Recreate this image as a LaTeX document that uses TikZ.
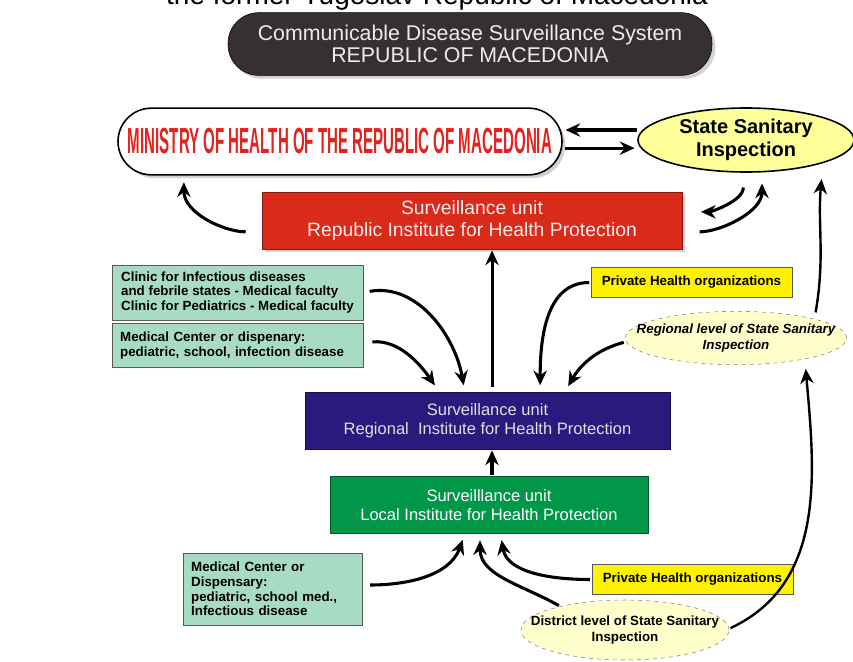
\documentclass[tikz,border=0pt]{standalone}
\usepackage{fontspec}
\setmainfont{Liberation Sans}
\usetikzlibrary{positioning,arrows.meta,shapes.geometric,shadows,calc}

\definecolor{sysgray}{RGB}{54,49,48}
\definecolor{rhpred}{RGB}{218,42,26}
\definecolor{regblue}{RGB}{44,25,125}
\definecolor{locgreen}{RGB}{0,152,72}
\definecolor{mint}{RGB}{168,219,196}
\definecolor{lightyel}{RGB}{255,255,204}
\definecolor{stateyel}{RGB}{255,255,153}
\definecolor{minred}{RGB}{228,35,30}

\begin{document}
\begin{tikzpicture}[x=0.75pt, y=-0.75pt,
    unit/.style={draw=#1!60!black, fill=#1, align=center, minimum height=42.5pt, font=\fontsize{12.4}{14.3}\selectfont},
    sidebox/.style={draw=gray!70!black, fill=mint, align=left, inner xsep=6pt, minimum width=188pt, font=\fontsize{10}{10.9}\selectfont\bfseries},
    privbox/.style={draw=gray!70!black, fill=yellow, minimum width=151pt, minimum height=22.5pt, font=\fontsize{10}{11}\selectfont\bfseries},
    inspect/.style={ellipse, draw=gray, dashed, fill=lightyel, inner sep=0pt},
    instext/.style={align=center, font=\fontsize{10}{11.5}\selectfont\bfseries},
    arrow/.style={-{Stealth[length=11pt,width=10pt]}, line width=2.3pt},
    shade/.style={drop shadow={shadow xshift=2.5pt, shadow yshift=-2.5pt, fill=gray!70}}
]
\useasboundingbox (0,0) rectangle (853,661);

% Header
\node[anchor=base, font=\fontsize{21}{21}\selectfont] (former) at (437,4) {the former Yugoslav Republic of Macedonia};
\node[shade, draw=black, fill=sysgray, text=gray!15, rounded corners=23pt, minimum width=363pt, minimum height=47pt, align=center, font=\fontsize{16}{16.5}\selectfont] (sys) at (470,44) {Communicable Disease Surveillance System\\REPUBLIC OF MACEDONIA};

% Ministry and inspection
\node[shade, draw=black, line width=1.2pt, fill=white, rounded corners=25pt, minimum width=333pt, minimum height=50pt, text=minred] (ministry) at (340,141.5) {\resizebox{318pt}{19pt}{\bfseries MINISTRY OF HEALTH OF THE REPUBLIC OF MACEDONIA}};
\node[ellipse, draw=black, line width=1.2pt, fill=stateyel, minimum width=162pt, minimum height=48pt, inner sep=0pt, align=center, font=\fontsize{15}{17.25}\selectfont\bfseries] (state) at (746,140) {State Sanitary\\Inspection};

% Surveillance units
\node[unit=rhpred, shade, text=white!92!red, minimum width=315pt, font=\fontsize{14.5}{16.5}\selectfont] (rhp) at (472,220.5) {Surveillance unit\\Republic Institute for Health Protection};
\node[unit=regblue, text=gray!25, minimum width=274pt] (reg) at (487.5,420.5) {Surveillance unit\\Regional\ \ Institute for Health Protection};
\node[unit=locgreen, text=white, minimum width=238.5pt] (loc) at (489,505) {Surveilllance unit\\Local Institute for Health Protection};

% Regional sources
\node[sidebox, minimum height=41pt] (clinic) at (237.5,292.5) {Clinic for Infectious diseases\\and febrile states - Medical faculty\\Clinic for Pediatrics - Medical faculty};
\node[sidebox, minimum height=33pt, below=2.25pt of clinic, text width=176pt] (medc) {Medical Center or dispenary:\\pediatric, school, infection disease};
\node[privbox] (privreg) at (691.5,282.5) {Private Health organizations};
\node[inspect, minimum width=166pt, minimum height=40pt, label={[instext, font=\fontsize{10}{11.5}\selectfont\bfseries\itshape]center:{Regional level of State Sanitary\\Inspection}}] (insreg) at (736,338) {};

% Local sources
\node[sidebox, minimum width=134pt, minimum height=54pt, text width=122pt] (medd) at (272.5,589) {Medical Center or\\Dispensary:\\pediatric, school med.,\\Infectious disease};
\node[privbox] (privloc) at (692.5,579.5) {Private Health organizations};
\node[inspect, minimum width=156pt, minimum height=45pt, label={[instext]center:{District level of State Sanitary\\Inspection}}] (insdis) at (625,630) {};

% Arrows
\draw[arrow, shorten >=2pt] ([yshift=7.5pt]state.west) -- ([yshift=7.5pt]state.west -| ministry.east);
\draw[arrow, shorten <=2pt, shorten >=2pt] ([yshift=-5pt]ministry.east) -- ([yshift=-5pt]ministry.east -| state.west);
\draw[arrow, shorten <=12pt, shorten >=5pt] ([yshift=-8.5pt]rhp.west) to[out=180, in=-90] ([xshift=50pt]ministry.south west);
\draw[arrow, shorten <=13pt, shorten >=8pt] ([yshift=-8.5pt]rhp.east) to[out=0, in=-90] ([xshift=12pt]state.south);
\draw[arrow, shorten <=11pt, shorten >=14pt] ([xshift=-2pt]state.south) to[out=-90, in=0] ([yshift=6.5pt]rhp.east);
\draw[arrow, line width=1.8pt, shorten <=5pt, shorten >=12pt] (insreg.north east) to[out=80, in=-95] (state.south east);
\draw[arrow, shorten <=4pt, shorten >=1pt] ([xshift=3.4pt]reg.north) -- ([xshift=3.4pt]reg.north |- rhp.south);
\draw[arrow, shorten <=5pt, shorten >=5pt] (clinic.east) to[out=10, in=100] ([xshift=-17pt]reg.north);
\draw[arrow, shorten <=7pt, shorten >=6pt] ([yshift=2pt]medc.east) to[out=5, in=125] ([xshift=-36pt]reg.north);
\draw[arrow, shorten <=1pt, shorten >=5pt] (privreg.west) to[out=180, in=90] ([xshift=39.5pt]reg.north);
\draw[arrow, shorten <=1pt, shorten >=5pt] ([yshift=-3pt]insreg.west) to[out=195, in=60] ([xshift=58pt]reg.north);
\draw[arrow, shorten <=1pt, shorten >=1pt] ([xshift=2.25pt]loc.north) -- ([xshift=2.25pt]loc.north |- reg.south);
\draw[arrow, shorten <=6pt, shorten >=5pt] ([yshift=3pt]medd.east) to[out=0, in=-110] ([xshift=-18pt]loc.south);
\draw[arrow, shorten <=1pt, shorten >=5pt] (privloc.west) to[out=180, in=-80] ([xshift=8.5pt]loc.south);
\draw[arrow, shorten <=1pt, shorten >=5pt] (insdis.160) to[out=150, in=-90] ([xshift=-6.75pt]loc.south);
\draw[arrow, line width=1.8pt, shorten <=1pt, shorten >=3pt] ([yshift=1pt]insdis.east) to[out=25, in=-85] ([xshift=52pt]insreg.south);
\end{tikzpicture}
\end{document}
